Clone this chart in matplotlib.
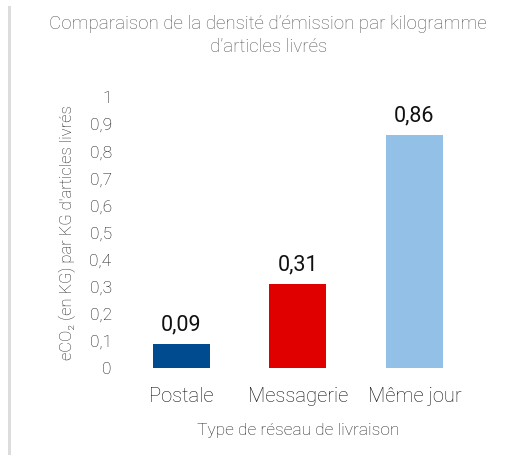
#!/usr/bin/env python3
"""Emission density per kilogram of delivered items, by delivery network."""

import matplotlib

matplotlib.use("Agg")
import matplotlib.pyplot as plt
from matplotlib.patches import Rectangle

CATEGORIES = ["Postale", "Messagerie", "Même jour"]
VALUES = [0.09, 0.31, 0.86]
BAR_COLORS = ["#004a8f", "#e00000", "#92c0e6"]
Y_TICKS = [0, 0.1, 0.2, 0.3, 0.4, 0.5, 0.6, 0.7, 0.8, 0.9, 1]

TITLE = "Comparaison de la densité d’émission par kilogramme\nd’articles livrés"
X_LABEL = "Type de réseau de livraison"
Y_LABEL = "eCO₂ (en KG) par KG d'articles livrés"


def fr(value: float) -> str:
    return f"{value:g}".replace(".", ",")


plt.rcParams["font.family"] = ["Roboto", "DejaVu Sans"]

fig = plt.figure(figsize=(5.16, 4.61), dpi=100)
ax = fig.add_axes([0.238, 0.2017, 0.678, 0.588])

x = range(len(CATEGORIES))
bars = ax.bar(x, VALUES, width=0.49, color=BAR_COLORS)
ax.bar_label(bars, labels=[fr(v) for v in VALUES], padding=6,
             fontsize=15.5, color="#111111")

ax.set_xlim(-0.5, len(CATEGORIES) - 0.5)
ax.set_ylim(0, 1)
ax.set_yticks(Y_TICKS)
ax.set_yticklabels([fr(t) for t in Y_TICKS], fontsize=12.5, color="#111111",
                   fontweight="light")
ax.set_xticks(list(x))
ax.set_xticklabels(CATEGORIES, fontsize=14.5, color="#111111",
                   fontweight="light")
ax.tick_params(length=0)
ax.tick_params(axis="y", pad=8)
ax.tick_params(axis="x", pad=14)
for spine in ax.spines.values():
    spine.set_visible(False)

ax.set_xlabel(X_LABEL, fontsize=12.5, color="#222222", fontweight="light",
              labelpad=12)
ax.set_ylabel(Y_LABEL, fontsize=12, color="#222222", fontweight="light",
              labelpad=10)

fig.text(0.52, 0.968, TITLE, ha="center", va="top", fontsize=13.5,
         color="#595959", fontweight="light", linespacing=1.4)

# light grey rule down the left edge
fig.add_artist(Rectangle((8 / 516, 6 / 461), 3 / 516, 449 / 461,
                         transform=fig.transFigure, color="#dcdcdc", lw=0))

fig.savefig("out.png", dpi=100)
